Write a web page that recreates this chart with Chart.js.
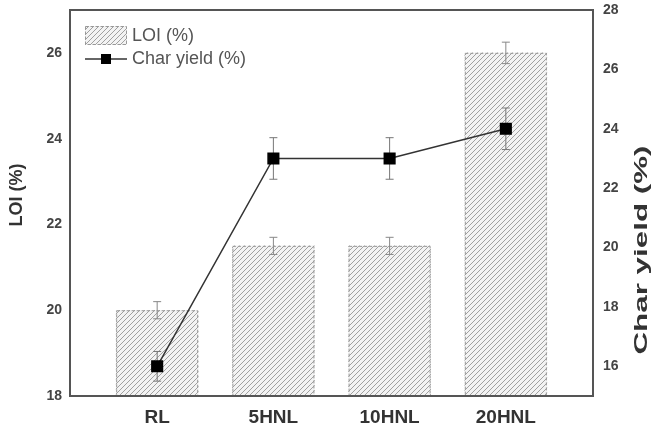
<!DOCTYPE html>
<html>
<head>
<meta charset="utf-8">
<script src="https://cdn.jsdelivr.net/npm/chart.js@4.4.0/dist/chart.umd.min.js"></script>
<style>
  html, body { margin: 0; padding: 0; background: #fff; }
  #wrap { width: 662px; height: 433px; }
</style>
</head>
<body>
<div id="wrap"><canvas id="chart"></canvas></div>
<script>
const categories = ["RL", "5HNL", "10HNL", "20HNL"];
const loi = [20, 21.5, 21.5, 26];
const loiErr = [0.2, 0.2, 0.2, 0.25];
const charYield = [16, 23, 23, 24];
const charErr = [0.5, 0.7, 0.7, 0.7];
const loiTicks = [18, 20, 22, 24, 26];
const charTicks = [16, 18, 20, 22, 24, 26, 28];

function hatch() {
  const c = document.createElement("canvas");
  c.width = 5; c.height = 5;
  const x = c.getContext("2d");
  x.fillStyle = "#f3f3f3";
  x.fillRect(0, 0, 5, 5);
  x.strokeStyle = "#a0a0a0";
  x.lineWidth = 1;
  x.beginPath();
  x.moveTo(0, 5); x.lineTo(5, 0);
  x.moveTo(-1, 1); x.lineTo(1, -1);
  x.moveTo(4, 6); x.lineTo(6, 4);
  x.stroke();
  return x.createPattern(c, "repeat");
}
const pattern = hatch();

function errBar(ctx, x, yTop, yBot, color) {
  ctx.strokeStyle = color;
  ctx.lineWidth = 1;
  ctx.beginPath();
  ctx.moveTo(x, yTop); ctx.lineTo(x, yBot);
  ctx.moveTo(x - 4, yTop); ctx.lineTo(x + 4, yTop);
  ctx.moveTo(x - 4, yBot); ctx.lineTo(x + 4, yBot);
  ctx.stroke();
}

// no automatic label padding on the axes
function noPad(s) {
  s.paddingTop = 0; s.paddingBottom = 0;
  s.paddingLeft = 0; s.paddingRight = 0;
}

const extras = {
  id: "extras",
  afterDatasetDraw(chart, args) {
    if (args.index !== 0) return;
    const ctx = chart.ctx;
    const xs = chart.scales.x, y = chart.scales.y, y2 = chart.scales.y2;
    ctx.save();
    // dashed bar outlines
    const meta = chart.getDatasetMeta(0);
    ctx.setLineDash([3, 2]);
    ctx.strokeStyle = "#999";
    ctx.lineWidth = 1;
    meta.data.forEach(b => {
      const bottom = Math.min(b.base, chart.chartArea.bottom);
      ctx.strokeRect(b.x - b.width / 2 + 0.5, b.y + 0.5, b.width - 1, bottom - b.y - 1);
    });
    ctx.setLineDash([]);
    categories.forEach((c, i) => {
      const px = xs.getPixelForValue(i + 1);
      errBar(ctx, px, y.getPixelForValue(loi[i] + loiErr[i]), y.getPixelForValue(loi[i] - loiErr[i]), "#888");
      errBar(ctx, px, y2.getPixelForValue(charYield[i] + charErr[i]), y2.getPixelForValue(charYield[i] - charErr[i]), "#777");
    });
    ctx.restore();
  },
  afterDraw(chart) {
    const ctx = chart.ctx;
    const a = chart.chartArea;
    ctx.save();
    // frame
    ctx.strokeStyle = "#555";
    ctx.lineWidth = 2;
    ctx.strokeRect(a.left, a.top, a.right - a.left, a.bottom - a.top);
    // legend
    const lx = a.left + 15, ly = a.top + 16;
    ctx.fillStyle = pattern;
    ctx.fillRect(lx, ly, 42, 19);
    ctx.setLineDash([3, 2]);
    ctx.strokeStyle = "#999";
    ctx.lineWidth = 1;
    ctx.strokeRect(lx + 0.5, ly + 0.5, 41, 18);
    ctx.setLineDash([]);
    ctx.fillStyle = "#555";
    ctx.font = "18px 'Liberation Sans', Arial, sans-serif";
    ctx.textBaseline = "middle";
    ctx.textAlign = "left";
    ctx.fillText("LOI (%)", lx + 47, ly + 10);
    ctx.fillText("Char yield (%)", lx + 47, ly + 33);
    ctx.strokeStyle = "#333";
    ctx.lineWidth = 1.5;
    ctx.beginPath();
    ctx.moveTo(lx, ly + 33); ctx.lineTo(lx + 42, ly + 33);
    ctx.stroke();
    ctx.fillStyle = "#000";
    ctx.fillRect(lx + 16, ly + 28, 10, 10);
    // axis titles
    ctx.fillStyle = "#333";
    ctx.textAlign = "center";
    ctx.font = "bold 18px 'Liberation Sans', Arial, sans-serif";
    ctx.save();
    ctx.translate(17, 195);
    ctx.rotate(-Math.PI / 2);
    ctx.fillText("LOI (%)", 0, 0);
    ctx.restore();
    ctx.font = "bold 19px 'Liberation Sans', Arial, sans-serif";
    ctx.save();
    ctx.translate(642, 250);
    ctx.rotate(-Math.PI / 2);
    ctx.scale(1.65, 1);
    ctx.fillText("Char yield (%)", 0, 0);
    ctx.restore();
    ctx.restore();
  }
};

new Chart(document.getElementById("chart"), {
  data: {
    datasets: [
      {
        type: "bar",
        label: "LOI (%)",
        data: categories.map((c, i) => ({ x: i + 1, y: loi[i] })),
        backgroundColor: pattern,
        borderWidth: 0,
        barThickness: 82,
        yAxisID: "y",
        order: 2
      },
      {
        type: "line",
        label: "Char yield (%)",
        data: categories.map((c, i) => ({ x: i + 1, y: charYield[i] })),
        borderColor: "#333",
        borderWidth: 1.5,
        pointStyle: "rect",
        pointRadius: 7.5,
        pointBackgroundColor: "#000",
        pointBorderColor: "#000",
        yAxisID: "y2",
        order: 1
      }
    ]
  },
  options: {
    responsive: true,
    maintainAspectRatio: false,
    animation: false,
    layout: { autoPadding: false, padding: { top: 10, left: 0, right: 0, bottom: 0 } },
    plugins: { legend: { display: false }, tooltip: { enabled: false } },
    scales: {
      x: {
        type: "linear",
        offset: false,
        min: 0.25,
        max: 4.75,
        afterBuildTicks: s => { s.ticks = categories.map((c, i) => ({ value: i + 1 })); },
        afterFit: s => { s.height = 37; noPad(s); },
        grid: { display: false, drawTicks: false, offset: false },
        border: { display: false },
        ticks: {
          padding: 10,
          color: "#333",
          font: { family: "'Liberation Sans', Arial, sans-serif", size: 19, weight: "bold" },
          callback: v => categories[v - 1]
        }
      },
      y: {
        position: "left",
        min: 18,
        max: 27,
        afterBuildTicks: s => { s.ticks = loiTicks.map(v => ({ value: v })); },
        afterFit: s => { s.width = 70; noPad(s); },
        grid: { display: false, drawTicks: false },
        border: { display: false },
        ticks: {
          padding: 8,
          color: "#444",
          font: { family: "'Liberation Sans', Arial, sans-serif", size: 14, weight: "bold" }
        }
      },
      y2: {
        position: "right",
        min: 15,
        max: 28,
        afterBuildTicks: s => { s.ticks = charTicks.map(v => ({ value: v })); },
        afterFit: s => { s.width = 69; noPad(s); },
        grid: { display: false, drawTicks: false },
        border: { display: false },
        ticks: {
          padding: 10,
          color: "#444",
          font: { family: "'Liberation Sans', Arial, sans-serif", size: 14, weight: "bold" }
        }
      }
    }
  },
  plugins: [extras]
});
</script>
</body>
</html>
